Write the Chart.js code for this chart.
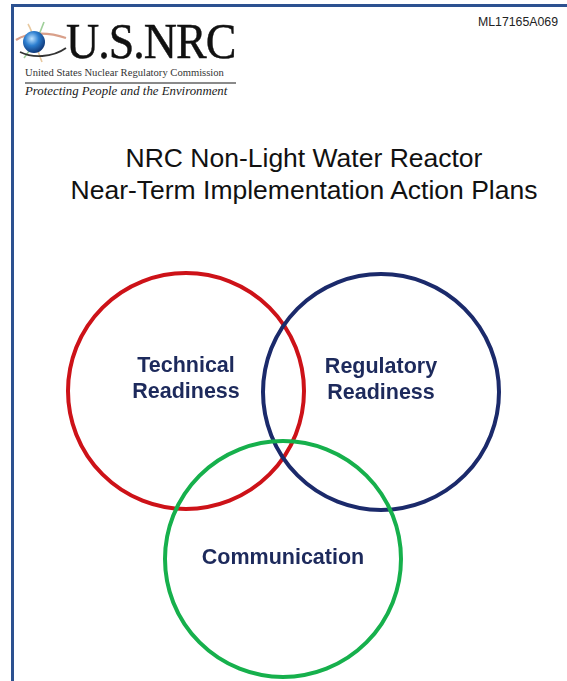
<!DOCTYPE html>
<html>
<head>
<meta charset="utf-8">
<script src="https://cdn.jsdelivr.net/npm/chart.js@4"></script>
<style>
  html, body { margin: 0; padding: 0; background: #fff; }
  body { width: 567px; height: 681px; position: relative; overflow: hidden; font-family: "Liberation Sans", Arial, sans-serif; }
  .frame-top { position: absolute; left: 12px; top: 4px; width: 560px; height: 3px; background: #2c5190; }
  .frame-left { position: absolute; left: 11px; top: 4px; width: 3px; height: 690px; background: #2c5190; }
  .docid { position: absolute; left: 478px; top: 15px; font-size: 12.3px; color: #222; }
  .logo-big { position: absolute; left: 66px; top: 18px; font-family: "Liberation Serif", "Times New Roman", serif; font-size: 46px; letter-spacing: -1px; color: #111; line-height: 50px; transform: scaleY(1.12); transform-origin: 0 80%; -webkit-text-stroke: 0.4px #111; }
  .logo-sub { position: absolute; left: 25px; top: 67px; width: 212px; font-family: "Liberation Serif", serif; font-size: 10.6px; color: #333; white-space: nowrap; }
  .logo-rule { position: absolute; left: 25px; top: 82px; width: 211px; height: 1.5px; background: #8a8a8a; }
  .logo-tag { position: absolute; left: 25px; top: 84px; font-family: "Liberation Serif", serif; font-style: italic; font-size: 12.8px; color: #1a1a1a; white-space: nowrap; }
  .globe { position: absolute; left: 14px; top: 18px; }
  .title { position: absolute; left: 40px; top: 142px; width: 528px; text-align: center; font-size: 26.5px; line-height: 32px; color: #111; }
  #wrap { position: absolute; left: 0; top: 0; width: 567px; height: 681px; }
</style>
</head>
<body>
<div class="frame-top"></div>
<div class="frame-left"></div>
<div class="docid">ML17165A069</div>
<svg class="globe" width="56" height="48" viewBox="0 0 56 48">
  <defs>
    <radialGradient id="g" cx="0.4" cy="0.35" r="0.7">
      <stop offset="0" stop-color="#bfe3ff"/>
      <stop offset="0.45" stop-color="#2d7fd0"/>
      <stop offset="1" stop-color="#0c2f6e"/>
    </radialGradient>
  </defs>
  <path d="M2 22 C 14 14, 34 14, 52 20" stroke="#d9a08a" stroke-width="2.2" fill="none"/>
  <path d="M14 6 C 20 16, 22 30, 28 44" stroke="#e8c9a0" stroke-width="1.6" fill="none"/>
  <path d="M30 4 C 26 16, 18 30, 10 40" stroke="#9fcf9a" stroke-width="1.6" fill="none"/>
  <circle cx="20" cy="24" r="11" fill="url(#g)"/>
  <path d="M6 34 C 18 40, 38 40, 52 30" stroke="#333" stroke-width="1.8" fill="none"/>
</svg>
<div class="logo-big">U.S.NRC</div>
<div class="logo-sub">United States Nuclear Regulatory Commission</div>
<div class="logo-rule"></div>
<div class="logo-tag">Protecting People and the Environment</div>
<div class="title">NRC Non-Light Water Reactor<br>Near-Term Implementation Action Plans</div>
<div id="wrap"><canvas id="venn"></canvas></div>
<script>
// Venn circles, in page units (the chart area maps 1:1 onto the page)
const categories = ['Technical Readiness', 'Regulatory Readiness', 'Communication'];
const labelLines = [['Technical', 'Readiness'], ['Regulatory', 'Readiness'], ['Communication']];
const centerX = [186, 381, 283];
const centerY = [391, 392, 559];
const radius = [118, 118, 118];

const ringColors = ['#cd1218', '#1b2a6b', '#16b04c'];

const vennLabels = {
  id: 'vennLabels',
  afterDatasetsDraw(chart, args, opts) {
    const ctx = chart.ctx;
    const meta = chart.getDatasetMeta(0);
    ctx.save();
    ctx.font = 'bold 21.5px "Liberation Sans", Arial, sans-serif';
    ctx.fillStyle = opts.color;
    ctx.textAlign = 'center';
    ctx.textBaseline = 'middle';
    meta.data.forEach((pt, i) => {
      const lines = labelLines[i];
      lines.forEach((t, j) => {
        const dy = (j - (lines.length - 1) / 2) * opts.lineHeight + opts.shift[i];
        ctx.fillText(t, pt.x, pt.y + dy);
      });
    });
    ctx.restore();
  }
};

new Chart(document.getElementById('venn'), {
  type: 'bubble',
  data: {
    labels: categories,
    datasets: [{
      data: categories.map((c, i) => ({ x: centerX[i], y: centerY[i], r: radius[i] })),
      backgroundColor: 'rgba(0,0,0,0)',
      borderColor: ringColors,
      borderWidth: 4,
      hoverBorderWidth: 4,
      clip: false
    }]
  },
  options: {
    responsive: true,
    maintainAspectRatio: false,
    animation: false,
    events: [],
    layout: { autoPadding: false, padding: 0 },
    scales: {
      x: { type: 'linear', min: 0, max: 567, display: false },
      y: { type: 'linear', min: 0, max: 681, reverse: true, display: false }
    },
    plugins: {
      legend: { display: false },
      tooltip: { enabled: false },
      vennLabels: { color: '#1d2a5c', lineHeight: 26, shift: [-12, -12, -1] }
    }
  },
  plugins: [vennLabels]
});
</script>
</body>
</html>
